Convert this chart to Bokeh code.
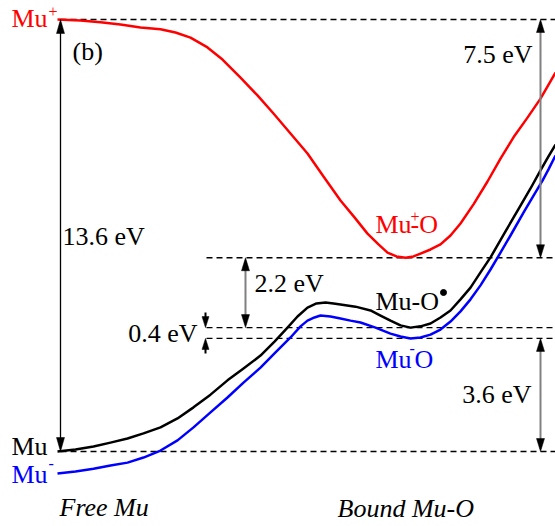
import numpy as np
from bokeh.plotting import figure
from bokeh.models import Range1d
from bokeh.core.properties import value
from bokeh.embed import file_html
from bokeh.resources import INLINE

# ---------------- data (reaction coordinate, energy in eV) ----------------
red_x = [57, 80, 100, 120, 140, 160, 175, 190, 207, 222, 240, 257, 273, 290, 307, 323,
         340, 354, 367, 378, 387, 396, 405, 413, 420, 430, 440, 450, 460, 473, 487, 500,
         513, 527, 540, 555]
red_E = [13.60, 13.57, 13.51, 13.44, 13.35, 13.29, 13.19, 13.03, 12.72, 12.34, 11.77, 11.21,
         10.64, 10.01, 9.38, 8.66, 7.90, 7.37, 6.86, 6.52, 6.26, 6.14, 6.10, 6.14, 6.23, 6.36,
         6.52, 6.80, 7.18, 7.78, 8.50, 9.22, 9.89, 10.51, 11.11, 11.93]

black_x = [57, 75, 93, 110, 127, 143, 160, 177, 193, 210, 227, 243, 260, 274, 287, 297, 307,
           316, 325, 333, 340, 355, 370, 380, 390, 400, 410, 420, 430, 440, 450, 460, 470,
           480, 490, 505, 520, 530, 540, 548, 555]
black_E = [0.00, 0.06, 0.16, 0.28, 0.41, 0.57, 0.76, 1.04, 1.39, 1.79, 2.24, 2.61, 3.02, 3.46,
           3.90, 4.25, 4.53, 4.66, 4.69, 4.66, 4.63, 4.56, 4.44, 4.28, 4.12, 3.97, 3.90, 3.94,
           4.03, 4.22, 4.44, 4.79, 5.16, 5.64, 6.11, 6.93, 7.74, 8.28, 8.85, 9.29, 9.66]

blue_x = [57, 75, 93, 110, 127, 143, 160, 177, 193, 210, 227, 243, 260, 275, 290, 300, 307,
          314, 320, 330, 340, 350, 360, 375, 390, 400, 410, 420, 430, 440, 450, 460, 470,
          480, 490, 500, 510, 523, 532, 542, 548, 555]
blue_E = [-0.69, -0.63, -0.54, -0.44, -0.35, -0.19, 0.03, 0.35, 0.76, 1.23, 1.70, 2.17, 2.64,
          3.12, 3.59, 3.94, 4.12, 4.22, 4.28, 4.25, 4.19, 4.12, 4.06, 3.90, 3.71, 3.62, 3.56,
          3.59, 3.68, 3.84, 4.09, 4.41, 4.79, 5.23, 5.73, 6.26, 6.80, 7.52, 8.00, 8.53, 8.88,
          9.32]

E_MU_PLUS = 13.6
E_MU_PLUS_O = 6.1
E_MU_O_RAD = 3.9
E_MU_O_MINUS = 3.56
E_MU = 0.0

gap_labels = ["13.6 eV", "7.5 eV", "2.2 eV", "0.4 eV", "3.6 eV"]

# ---------------- figure ----------------
W, H = 555, 526
Y_MIN, Y_MAX = -2.361, 14.198
K = H / (Y_MAX - Y_MIN)          # px per eV
BASE_FIX = 9                     # alphabetic baseline correction (px)


def row(r):
    """energy corresponding to a screen row (for label placement)"""
    return Y_MAX - r / K


p = figure(width=W, height=H, x_range=Range1d(0, W), y_range=Range1d(Y_MIN, Y_MAX),
           output_backend="svg", toolbar_location=None, min_border=0,
           x_axis_location=None, y_axis_location=None)
p.grid.visible = False
p.outline_line_color = None
p.background_fill_color = "white"
p.border_fill_color = "white"

FONT = value("'Liberation Serif', 'Times New Roman', serif")

# dashed reference levels
p.segment(x0=[60, 206, 206, 206, 60], x1=[W, W, W, W, W],
          y0=[E_MU_PLUS, E_MU_PLUS_O, E_MU_O_RAD, E_MU_O_MINUS, E_MU],
          y1=[E_MU_PLUS, E_MU_PLUS_O, E_MU_O_RAD, E_MU_O_MINUS, E_MU],
          line_color="black", line_width=1.3, line_dash="6 4")

# curves
p.line(red_x, red_E, line_color="#ff0000", line_width=2.5, line_join="round")
p.line(black_x, black_E, line_color="black", line_width=2.5, line_join="round")
p.line(blue_x, blue_E, line_color="#0000ff", line_width=2.5, line_join="round")

# arrows
heads_x, heads_y = [], []


def head(x, tip, direction, length=13, width=8):
    base = tip - direction * length / K
    heads_x.append([x, x - width / 2, x + width / 2])
    heads_y.append([tip, base, base])


def double_arrow(x, lo, hi, color, lw, length=13, width=8):
    p.segment(x0=[x], x1=[x], y0=[lo + 3 / K], y1=[hi - 3 / K], line_color=color, line_width=lw)
    head(x, hi, 1, length, width)
    head(x, lo, -1, length, width)


double_arrow(60, E_MU, E_MU_PLUS, "black", 1.3, 14, 8)
double_arrow(540, E_MU_PLUS_O, E_MU_PLUS, "#808080", 2, 13, 8)
double_arrow(245, E_MU_O_RAD, E_MU_PLUS_O, "#808080", 2, 13, 8)
double_arrow(540, E_MU, E_MU_O_MINUS, "#808080", 2, 13, 8)
# 0.4 eV: two small inward arrows
p.segment(x0=[205, 205], x1=[205, 205],
          y0=[E_MU_O_RAD + 15 / K, E_MU_O_MINUS - 15 / K],
          y1=[E_MU_O_RAD + 6 / K, E_MU_O_MINUS - 6 / K],
          line_color="black", line_width=2)
head(205, E_MU_O_RAD, -1, 11, 7)
head(205, E_MU_O_MINUS, 1, 11, 7)

p.patches(heads_x, heads_y, fill_color="black", line_color="black", line_width=0.5)


def txt(x, r, s, color="black", size="26px", style="normal", align="left",
        baseline="alphabetic"):
    if baseline == "alphabetic":
        r = r - BASE_FIX
    p.text(x=[x], y=[row(r)], text=[s], text_color=color, text_font=FONT,
           text_font_size=value(size), text_font_style=style,
           text_align=align, text_baseline=baseline)


# state labels
txt(11, 27, "Mu", "#ff0000")
txt(48, 11, "+", "#ff0000", size="16px", baseline="middle")
txt(72, 60, "(b)")
txt(11, 455, "Mu")
txt(11, 483, "Mu", "#0000ff")
txt(48, 463, "-", "#0000ff", size="16px", baseline="middle")

txt(375, 233, "Mu", "#ff0000")
txt(410, 216, "+", "#ff0000", size="16px", baseline="middle")
txt(410, 233, "-O", "#ff0000")

txt(375, 310, "Mu-O")
p.scatter(x=[443], y=[row(292)], size=6, marker="circle", fill_color="black",
          line_color="black")

txt(375, 368, "Mu", "#0000ff")
txt(409, 348, "-", "#0000ff", size="16px", baseline="middle")
txt(414, 368, "O", "#0000ff")

# gap labels
txt(62, 245, gap_labels[0])
txt(532, 63, gap_labels[1], align="right")
txt(254, 292, gap_labels[2])
txt(197, 342, gap_labels[3], align="right")
txt(531, 403, gap_labels[4], align="right")

# bottom captions
txt(59, 516, "Free Mu", style="italic")
txt(337, 517, "Bound Mu-O", style="italic")

open("out.html", "w").write(file_html(p, INLINE))
